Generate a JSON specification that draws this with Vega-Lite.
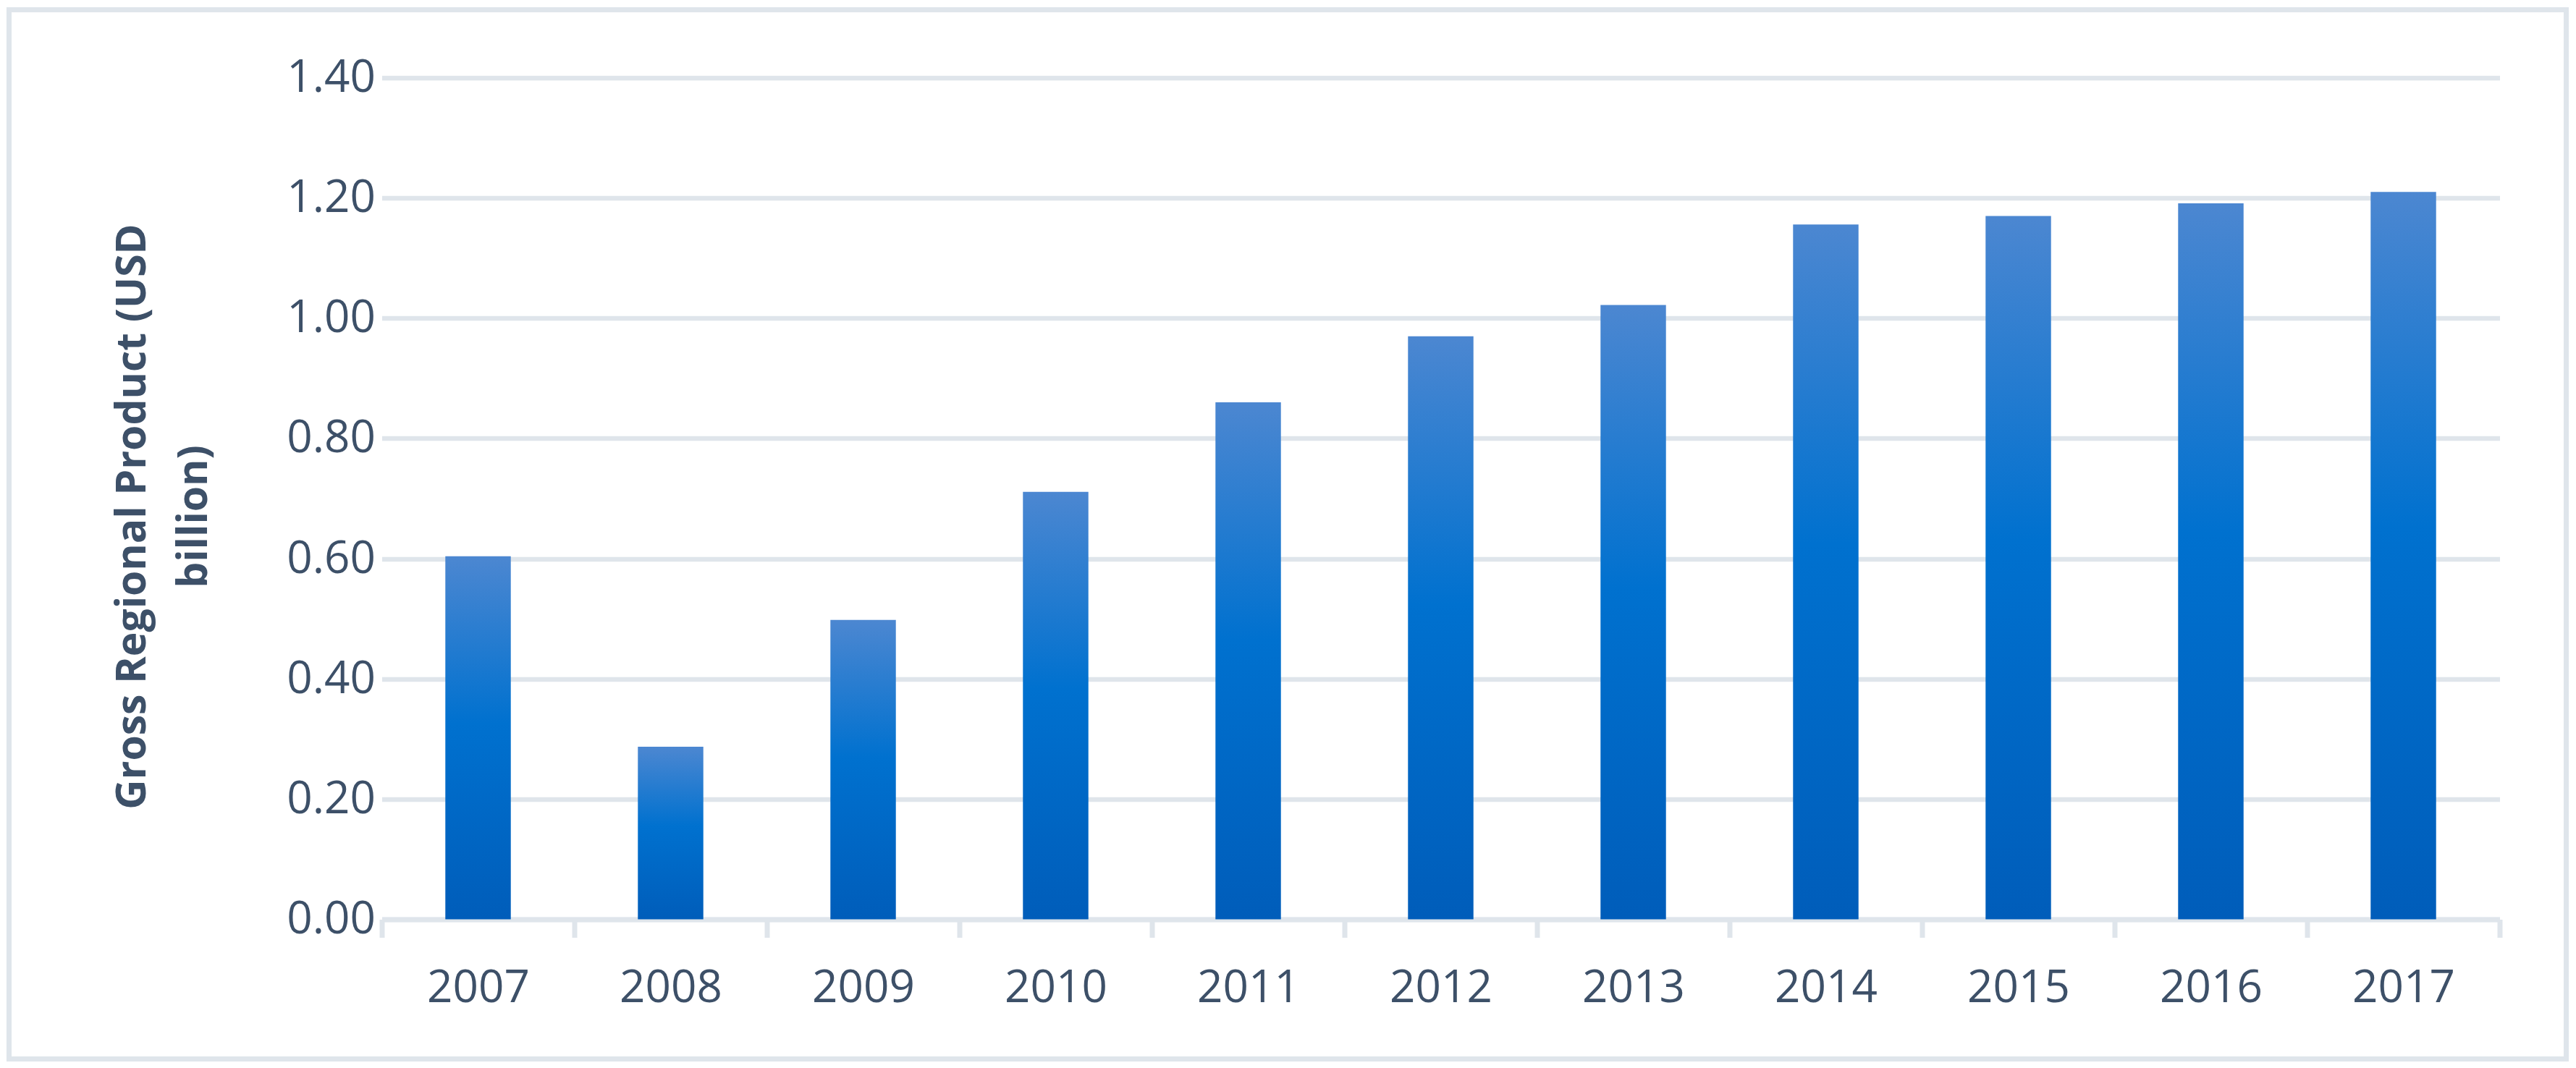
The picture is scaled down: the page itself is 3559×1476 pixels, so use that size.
{
  "$schema": "https://vega.github.io/schema/vega-lite/v6.json",
  "width": 3533,
  "height": 1450,
  "autosize": "none",
  "padding": {"left": 12.5, "top": 13.5, "right": 13.5, "bottom": 12.5},
  "background": "#ffffff",
  "config": {
    "view": {"stroke": "#DFE5EB", "strokeWidth": 7},
    "font": "Open Sans"
  },
  "data": {
    "values": [
      {"year": "2007", "grp": 0.604},
      {"year": "2008", "grp": 0.287},
      {"year": "2009", "grp": 0.498},
      {"year": "2010", "grp": 0.711},
      {"year": "2011", "grp": 0.860},
      {"year": "2012", "grp": 0.970},
      {"year": "2013", "grp": 1.022},
      {"year": "2014", "grp": 1.156},
      {"year": "2015", "grp": 1.170},
      {"year": "2016", "grp": 1.191},
      {"year": "2017", "grp": 1.210}
    ]
  },
  "mark": {
    "type": "bar",
    "width": {"band": 0.34},
    "color": {
      "gradient": "linear",
      "x1": 0, "y1": 0, "x2": 0, "y2": 1,
      "stops": [
        {"offset": 0, "color": "#4C87D1"},
        {"offset": 0.46, "color": "#0071CF"},
        {"offset": 1, "color": "#005DBA"}
      ]
    }
  },
  "encoding": {
    "x": {
      "field": "year",
      "type": "ordinal",
      "scale": {"paddingInner": 0, "paddingOuter": 0, "range": [515, 3441]},
      "axis": {
        "offset": -193,
        "title": null,
        "labelAngle": 0,
        "labelFont": "Open Sans",
        "labelFontSize": 62,
        "labelColor": "#3D5068",
        "labelPadding": 40,
        "domain": true,
        "domainColor": "#DFE5EB",
        "domainWidth": 7,
        "ticks": true,
        "tickBand": "extent",
        "tickColor": "#DFE5EB",
        "tickWidth": 7,
        "tickSize": 25,
        "grid": false
      }
    },
    "y": {
      "field": "grp",
      "type": "quantitative",
      "scale": {"domain": [0, 1.4], "nice": false, "range": [1257, 94]},
      "axis": {
        "offset": -515,
        "values": [0, 0.2, 0.4, 0.6, 0.8, 1.0, 1.2, 1.4],
        "format": ".2f",
        "title": ["Gross Regional Product (USD", "billion)"],
        "titleFont": "Open Sans",
        "titleFontWeight": "bold",
        "titleFontSize": 57,
        "titleColor": "#3D5068",
        "titleLineHeight": 85,
        "titleAngle": 270,
        "titleBaseline": "bottom",
        "titleAlign": "center",
        "titleX": -315,
        "titleY": 700,
        "labelFont": "Open Sans",
        "labelFontSize": 62,
        "labelColor": "#3D5068",
        "labelPadding": 9,
        "domain": false,
        "ticks": false,
        "grid": true,
        "gridColor": "#DFE5EB",
        "gridWidth": 6.5
      }
    }
  }
}
